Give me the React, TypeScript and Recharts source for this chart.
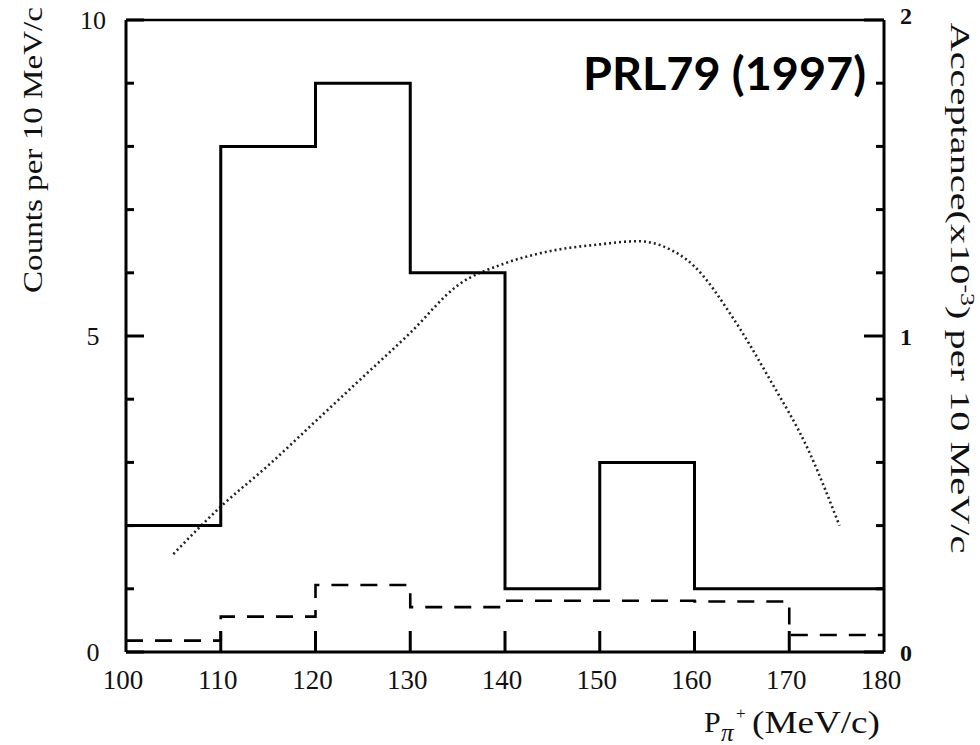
import { ComposedChart, Line, XAxis, YAxis } from "recharts";

// bin edges (MeV/c) and histogram contents, value at edge = content of bin starting there
const binEdges = [100, 110, 120, 130, 140, 150, 160, 170, 180];
const observedCounts = [2, 8, 9, 6, 1, 3, 1, 1, 1];
const backgroundCounts = [0.18, 0.56, 1.06, 0.71, 0.81, 0.81, 0.8, 0.27, 0.27];

// acceptance curve (right axis, x10^-3)
const acceptanceP = [105, 110, 115, 120, 125, 130, 135, 140, 145, 150, 154, 157, 160, 164, 168, 172, 175.3];
const acceptanceVal = [0.31, 0.46, 0.59, 0.73, 0.87, 1.01, 1.16, 1.23, 1.27, 1.29, 1.3, 1.28, 1.22, 1.06, 0.86, 0.64, 0.4];

const xTicks = [100, 110, 120, 130, 140, 150, 160, 170, 180];
const leftTicks = [0, 1, 2, 3, 4, 5, 6, 7, 8, 9, 10];
const rightTicks = [0, 0.2, 0.4, 0.6, 0.8, 1, 1.2, 1.4, 1.6, 1.8, 2];

const observedData = binEdges.map((p, i) => ({ p, v: observedCounts[i] }));
const backgroundData = binEdges.map((p, i) => ({ p, v: backgroundCounts[i] }));
const acceptanceData = acceptanceP.map((p, i) => ({ p, v: acceptanceVal[i] }));

const serif = "'Liberation Serif', 'DejaVu Serif', serif";

function BottomTick(props: any) {
  const { x, y, payload } = props;
  const v = payload.value;
  const edge = v === 100 || v === 180;
  return (
    <g>
      {!edge && <line x1={x} x2={x} y1={y} y2={y - 21} stroke="#000" strokeWidth={3} />}
      <text x={x - 3} y={y + 37} textAnchor="middle" fontFamily={serif} fontSize={27} fill="#111">
        {v}
      </text>
    </g>
  );
}

function TopTick(props: any) {
  const { x, y, payload } = props;
  const v = payload.value;
  if (v === 100 || v === 180) return <g />;
  return <line x1={x} x2={x} y1={y} y2={y + 20} stroke="#000" strokeWidth={2.5} />;
}

function LeftTick(props: any) {
  const { x, y, payload } = props;
  const v = payload.value;
  const major = v % 5 === 0;
  return (
    <g>
      <line x1={x} x2={x + (major ? 18 : 8)} y1={y} y2={y} stroke="#000" strokeWidth={3} />
      {major && (
        <text x={x - 33} y={y + 9} textAnchor="middle" fontFamily={serif} fontSize={26} fill="#111">
          {v}
        </text>
      )}
    </g>
  );
}

function RightTick(props: any) {
  const { x, y, payload } = props;
  const v = payload.value;
  const major = Math.abs(v - Math.round(v)) < 1e-6;
  return (
    <g>
      <line x1={x} x2={x - (major ? 20 : 8)} y1={y} y2={y} stroke="#000" strokeWidth={3} />
      {major && (
        <text x={x + 22} y={y + (v === 2 ? 4 : 9)} textAnchor="middle" fontFamily={serif} fontSize={24} fontWeight={700} fill="#111">
          {Math.round(v)}
        </text>
      )}
    </g>
  );
}

export default function App() {
  return (
    <div style={{ position: "absolute", left: 0, top: 0, width: 980, height: 745, background: "#fff" }}>
      <ComposedChart width={980} height={745} margin={{ top: 10, right: 56, bottom: 53, left: 66 }}>
        <XAxis
          xAxisId="bottom"
          dataKey="p"
          type="number"
          domain={[100, 180]}
          ticks={xTicks}
          height={40}
          tickSize={0}
          tickMargin={0}
          tickLine={false}
          axisLine={{ stroke: "#000", strokeWidth: 3 }}
          tick={<BottomTick />}
          interval={0}
        />
        <XAxis
          xAxisId="top"
          orientation="top"
          dataKey="p"
          type="number"
          domain={[100, 180]}
          ticks={xTicks}
          height={10}
          tickSize={0}
          tickMargin={0}
          tickLine={false}
          axisLine={{ stroke: "#000", strokeWidth: 2.5 }}
          tick={<TopTick />}
          interval={0}
        />
        <YAxis
          yAxisId="left"
          type="number"
          domain={[0, 10]}
          ticks={leftTicks}
          width={60}
          tickSize={0}
          tickMargin={0}
          tickLine={false}
          axisLine={{ stroke: "#000", strokeWidth: 3 }}
          tick={<LeftTick />}
          interval={0}
        />
        <YAxis
          yAxisId="right"
          orientation="right"
          type="number"
          domain={[0, 2]}
          ticks={rightTicks}
          width={40}
          tickSize={0}
          tickMargin={0}
          tickLine={false}
          axisLine={{ stroke: "#000", strokeWidth: 3 }}
          tick={<RightTick />}
          interval={0}
        />
        <Line
          data={acceptanceData}
          xAxisId="bottom"
          yAxisId="right"
          dataKey="v"
          type="monotone"
          stroke="#222"
          strokeWidth={2.6}
          strokeDasharray="2 3"
          dot={false}
          isAnimationActive={false}
        />
        <Line
          data={backgroundData}
          xAxisId="bottom"
          yAxisId="left"
          dataKey="v"
          type="stepAfter"
          stroke="#000"
          strokeWidth={2.6}
          strokeDasharray="17 12"
          dot={false}
          isAnimationActive={false}
        />
        <Line
          data={observedData}
          xAxisId="bottom"
          yAxisId="left"
          dataKey="v"
          type="stepAfter"
          stroke="#000"
          strokeWidth={3}
          dot={false}
          isAnimationActive={false}
        />
      </ComposedChart>
      <svg width={980} height={745} style={{ position: "absolute", left: 0, top: 0, pointerEvents: "none" }}>
        <text
          transform="translate(42,150) rotate(-90)"
          textAnchor="middle"
          fontFamily={serif}
          fontSize={27}
          fill="#111"
          textLength={286}
          lengthAdjust="spacingAndGlyphs"
        >
          Counts per 10 MeV/c
        </text>
        <text
          transform="translate(951,288) rotate(90) scale(1.44,1)"
          textAnchor="middle"
          fontFamily={serif}
          fontSize={28}
          fill="#111"
        >
          Acceptance(x10<tspan fontSize={18} dy={-10}>-3</tspan>
          <tspan dy={10}>) per 10 MeV/c</tspan>
        </text>
        <text x={704} y={732} fontFamily={serif} fontSize={30} fill="#111">P</text>
        <text x={721} y={741} fontFamily={serif} fontStyle="italic" fontSize={25} fill="#111">π</text>
        <text x={736} y={719} fontFamily={serif} fontSize={17} fill="#111">+</text>
        <text x={752} y={733} fontFamily={serif} fontSize={32} fill="#111" textLength={128} lengthAdjust="spacingAndGlyphs">
          (MeV/c)
        </text>
        <text
          x={583}
          y={90}
          fontFamily="Lato, 'Open Sans', sans-serif"
          fontWeight={700}
          fontSize={46}
          fill="#000"
          textLength={283}
          lengthAdjust="spacingAndGlyphs"
        >
          PRL79 (1997)
        </text>
      </svg>
    </div>
  );
}
